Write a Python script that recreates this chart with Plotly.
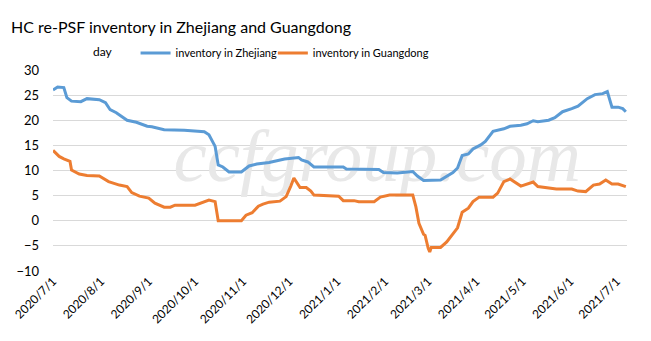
import plotly.graph_objects as go

zj_dates = ["2020-07-01","2020-07-04","2020-07-08","2020-07-10","2020-07-13","2020-07-19","2020-07-23","2020-07-31",
            "2020-08-04","2020-08-07","2020-08-11","2020-08-18","2020-08-24","2020-08-31","2020-09-03","2020-09-11",
            "2020-09-24","2020-10-07","2020-10-10","2020-10-14","2020-10-16","2020-10-19","2020-10-23","2020-10-31",
            "2020-11-05","2020-11-10","2020-11-18","2020-11-25","2020-11-28","2020-12-07","2020-12-09","2020-12-13",
            "2020-12-17","2021-01-05","2021-01-07","2021-01-28","2021-01-31","2021-02-09","2021-02-19","2021-02-22",
            "2021-02-26","2021-03-09","2021-03-13","2021-03-17","2021-03-20","2021-03-23","2021-03-27","2021-03-30",
            "2021-04-04","2021-04-07","2021-04-12","2021-04-19","2021-04-23","2021-04-30","2021-05-04","2021-05-08",
            "2021-05-11","2021-05-18","2021-05-22","2021-05-27","2021-06-02","2021-06-06","2021-06-12","2021-06-17",
            "2021-06-22","2021-06-25","2021-06-28","2021-07-02","2021-07-05","2021-07-07"]
zj_values = [26.0,26.6,26.5,24.5,23.8,23.7,24.3,24.1,
             23.5,22.1,21.5,20.0,19.6,18.8,18.7,18.1,
             18.0,17.7,17.1,14.8,11.1,10.7,9.7,9.7,
             10.9,11.3,11.6,12.0,12.3,12.6,12.1,11.7,
             10.7,10.7,10.3,10.2,9.6,9.5,9.8,8.9,
             8.0,8.1,8.9,9.6,10.5,13.0,13.3,14.3,
             15.1,15.8,17.8,18.3,18.8,19.0,19.3,19.9,
             19.7,20.0,20.5,21.7,22.3,22.8,24.3,25.1,
             25.3,25.7,22.6,22.6,22.3,21.7]

gd_dates = ["2020-07-01","2020-07-05","2020-07-08","2020-07-12","2020-07-13","2020-07-18","2020-07-23","2020-07-31",
            "2020-08-06","2020-08-13","2020-08-18","2020-08-21","2020-08-26","2020-09-01","2020-09-05","2020-09-11",
            "2020-09-15","2020-09-18","2020-10-01","2020-10-10","2020-10-14","2020-10-16","2020-10-31","2020-11-03",
            "2020-11-07","2020-11-11","2020-11-14","2020-11-18","2020-11-25","2020-11-29","2020-12-02","2020-12-04",
            "2020-12-08","2020-12-12","2020-12-15","2020-12-17","2021-01-02","2021-01-05","2021-01-12","2021-01-15",
            "2021-01-25","2021-01-29","2021-02-04","2021-02-19","2021-02-21","2021-02-23","2021-02-26","2021-02-27",
            "2021-03-01","2021-03-02","2021-03-03","2021-03-09","2021-03-13","2021-03-16","2021-03-20","2021-03-23",
            "2021-03-27","2021-03-30","2021-04-03","2021-04-12","2021-04-15","2021-04-19","2021-04-23","2021-04-30",
            "2021-05-04","2021-05-08","2021-05-11","2021-05-17","2021-05-23","2021-06-02","2021-06-06","2021-06-11",
            "2021-06-16","2021-06-20","2021-06-24","2021-06-28","2021-07-02","2021-07-07"]
gd_values = [14.0,12.8,12.3,11.8,10.1,9.3,9.0,8.9,
             7.8,7.1,6.8,5.6,4.9,4.5,3.5,2.7,
             2.7,3.1,3.1,4.1,3.8,0.0,0.0,1.1,
             1.6,2.9,3.3,3.7,3.9,4.8,6.9,8.5,
             6.6,6.6,5.9,5.1,4.9,4.0,4.0,3.8,
             3.8,4.7,5.1,5.1,2.8,-0.5,-2.7,-2.9,
             -5.5,-6.2,-5.3,-5.3,-4.2,-2.9,-1.4,1.7,
             2.5,3.8,4.7,4.7,5.5,7.8,8.3,6.9,
             7.3,7.7,6.8,6.5,6.3,6.3,5.9,5.8,
             7.1,7.3,8.1,7.3,7.3,6.8]

series_names = ["inventory in Zhejiang", "inventory in Guangdong"]
title_text = "HC re-PSF inventory in Zhejiang and Guangdong"
unit_text = "day"
y_ticks = [-10, -5, 0, 5, 10, 15, 20, 25, 30]
watermark = "ccfgroup.com"

FONT = "Lato"
x_range = ["2020-07-01", "2021-07-07 18:00"]

fig = go.Figure()

# watermark behind the lines
fig.add_trace(go.Scatter(
    x=["2021-01-27"], y=[11.7], mode="text", text=[watermark],
    textfont=dict(family="Liberation Serif", size=75, color="#e8e8e8", style="italic"),
    textposition="middle center", showlegend=False, hoverinfo="skip",
))

fig.add_trace(go.Scatter(x=zj_dates, y=zj_values, mode="lines", name=series_names[0],
                         line=dict(color="#5b9bd5", width=3), legend="legend"))
fig.add_trace(go.Scatter(x=gd_dates, y=gd_values, mode="lines", name=series_names[1],
                         line=dict(color="#ed7d31", width=3), legend="legend2"))

leg_common = dict(orientation="h", xanchor="left", yanchor="middle", y=1+(70-53)/200,
                  font=dict(family=FONT, size=11), bgcolor="rgba(0,0,0,0)")

fig.update_layout(
    width=651, height=341,
    margin=dict(l=50, r=24, t=70, b=70),
    paper_bgcolor="white", plot_bgcolor="white",
    font=dict(family=FONT, size=12, color="#000000"),
    title=dict(text=title_text, x=11/651, xanchor="left", y=1-27/341, yanchor="middle",
               font=dict(family=FONT, size=16, color="#000000")),
    showlegend=True,
    legend=dict(x=(133-50)/577, **leg_common),
    legend2=dict(x=(271-50)/577, **leg_common),
    xaxis=dict(type="date", range=x_range, showgrid=False, zeroline=False, showline=False,
               ticks="", tickformat="%Y/%-m/%-d", dtick="M1", tick0="2020-07-01",
               tickangle=-45, tickfont=dict(family=FONT, size=12)),
    xaxis2=dict(type="date", range=x_range, overlaying="x", anchor="free", position=0.25,
                showgrid=False, zeroline=False, showline=True, linecolor="#d9d9d9", linewidth=1,
                ticks="outside", ticklen=5, tickcolor="#d9d9d9", dtick="M1", tick0="2020-07-01",
                showticklabels=False),
    yaxis=dict(range=[-10, 30], tickvals=y_ticks, showgrid=True, gridcolor="#d9d9d9", gridwidth=1,
               zeroline=False, showline=False, ticks="", ticklabelstandoff=13,
               tickfont=dict(family=FONT, size=13)),
    annotations=[dict(text=unit_text, xref="paper", yref="paper", x=(100-50)/577, y=1+(70-52)/200,
                      showarrow=False, xanchor="center", yanchor="middle",
                      font=dict(family=FONT, size=12))],
)

fig.write_html("out.html")
